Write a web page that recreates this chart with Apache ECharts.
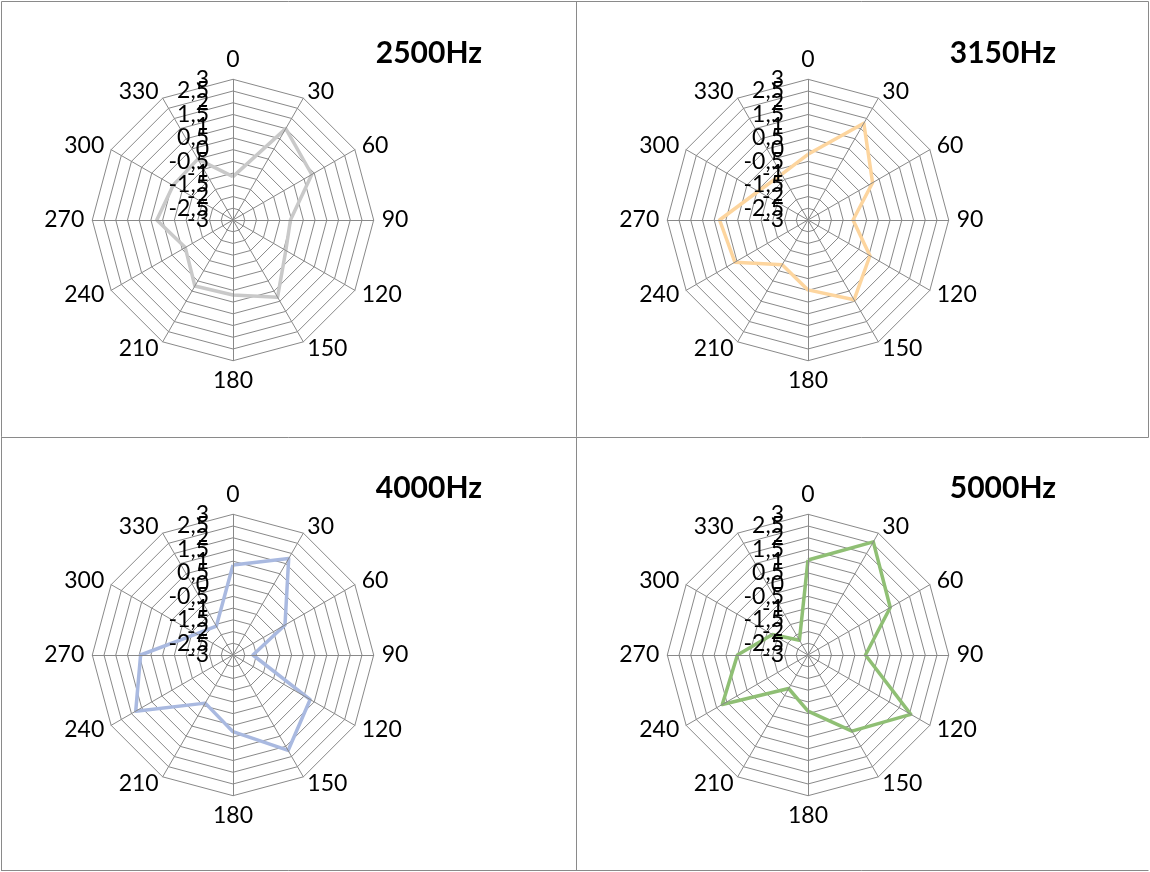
<!DOCTYPE html>
<html><head><meta charset="utf-8">
<script src="https://cdn.jsdelivr.net/npm/echarts@6/dist/echarts.min.js"></script>
<style>html,body{margin:0;padding:0;background:#fff}#c{width:1150px;height:872px}</style>
</head><body><div id="c"></div>
<script>
// Directions (degrees) around each polar chart, clockwise from top
const angles = ['0','30','60','90','120','150','180','210','240','270','300','330'];
// Radial scale
const radialMin = -3;
const radialMax = 3;
const radialSplits = 12;
// Panel titles
const titles = ['2500Hz', '3150Hz', '4000Hz', '5000Hz'];
// Series values (0..330 deg)
const v2500 = [-1.15, 1.5, 0.88, -0.55, -0.4, 0.8, 0.2, 0.25, -0.65, 0.25, -0.05, 0.0];
const v3150 = [-0.2, 1.76, 0.18, -1.08, 0.05, 0.93, -0.02, -0.8, 0.6, 0.77, -0.55, -0.75];
const v4000 = [0.84, 1.75, -0.44, -2.15, 0.8, 1.7, 0.27, -0.63, 1.79, 0.94, -1.2, -1.58];
const v5000 = [1.05, 2.57, 1.05, -0.55, 2.06, 0.75, -0.61, -1.35, 1.22, 0.01, -1.25, -2.27];

const seriesValues = [v2500, v3150, v4000, v5000];
const colors = ['#c9c9c9', '#fdd59e', '#a9b9e0', '#8fbf74'];
const centers = [[233, 220], [808, 220], [233, 655], [808, 655]];
const FONT = 'Lato';

// ECharts radar runs counter-clockwise: reorder so directions go clockwise
const order = angles.map(function (_, k) { return (angles.length - k) % angles.length; });

function fmt(v) { return String(v).replace('.', ','); }

const chart = echarts.init(document.getElementById('c'), null, {renderer: 'canvas'});

const labelBase = {
  show: false,
  hideOverlap: false,
  color: '#000',
  fontSize: 23,
  fontFamily: FONT,
  margin: 24
};

function makeRadar(c, overlay) {
  return {
    center: c,
    radius: 140.7,
    startAngle: 90,
    splitNumber: radialSplits,
    shape: 'polygon',
    z: overlay ? 5 : 2,
    indicator: order.map(function (idx, k) {
      const ind = {name: overlay ? '' : angles[idx], min: radialMin, max: radialMax};
      if (k === 0) ind.axisLabel = {show: true};
      return ind;
    }),
    axisName: {show: !overlay, color: '#000', fontSize: 23, fontFamily: FONT},
    nameGap: 8,
    splitLine: {show: !overlay, lineStyle: {color: '#898989', width: 1}},
    splitArea: {show: false},
    axisLine: {show: !overlay, lineStyle: {color: '#898989', width: 1}},
    axisTick: {show: false},
    axisLabel: Object.assign({}, labelBase, overlay ? {
      // second pass shows the labels next to the ends that the first pass drops
      showMinLabel: false,
      showMaxLabel: false,
      formatter: function (v) { return Math.abs(v) === radialMax - 0.5 ? fmt(v) : ''; }
    } : {
      showMinLabel: true,
      showMaxLabel: true,
      formatter: fmt
    })
  };
}

const radars = centers.map(function (c) { return makeRadar(c, false); })
  .concat(centers.map(function (c) { return makeRadar(c, true); }));

const series = seriesValues.map(function (vals, i) {
  return {
    type: 'radar',
    radarIndex: i,
    symbol: 'none',
    silent: true,
    lineStyle: {color: colors[i], width: 3.5},
    itemStyle: {color: colors[i]},
    data: [{value: order.map(function (idx) { return vals[idx]; }), name: titles[i]}]
  };
});

const titleOpts = titles.map(function (t, i) {
  return {
    text: t,
    right: i % 2 === 0 ? 663 : 89,
    top: i < 2 ? 33 : 468,
    textStyle: {fontSize: 30, fontWeight: 'bold', fontFamily: FONT, color: '#000'}
  };
});

const borderStyle = {stroke: '#8a8a8a', lineWidth: 1};
function line(x1, y1, x2, y2) {
  return {type: 'line', shape: {x1: x1, y1: y1, x2: x2, y2: y2}, style: borderStyle, silent: true};
}

chart.setOption({
  animation: false,
  backgroundColor: '#fff',
  title: titleOpts,
  radar: radars,
  series: series,
  graphic: [
    line(1.5, 1.5, 1148.5, 1.5),
    line(1.5, 1.5, 1.5, 871),
    line(576.5, 1.5, 576.5, 871),
    line(1.5, 437.5, 1148.5, 437.5),
    line(1148.5, 1.5, 1148.5, 437.5),
    line(1.5, 870.5, 1148.5, 870.5)
  ]
});
</script>
</body></html>
